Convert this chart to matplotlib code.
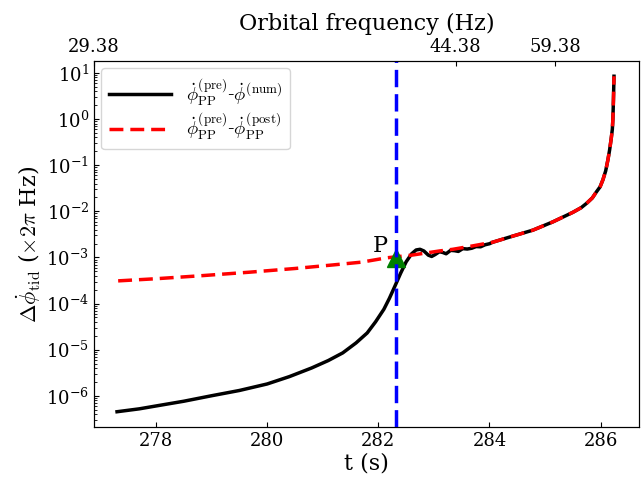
import numpy as np
import matplotlib.pyplot as plt

plt.rcParams['font.family'] = 'DejaVu Serif'
plt.rcParams['mathtext.fontset'] = 'dejavuserif'
plt.rcParams['axes.unicode_minus'] = False

# difference numerical vs pre-merger PP
t_num = [277.30, 277.7, 278.0, 278.5, 279.0, 279.5, 280.0, 280.4, 280.8, 281.1,
         281.36, 281.6, 281.8, 281.95, 282.1, 282.2, 282.3, 282.4, 282.5, 282.6,
         282.68, 282.75, 282.82, 282.9, 282.96, 283.02, 283.1, 283.16, 283.22, 283.3,
         283.37, 283.44, 283.52, 283.6, 283.68, 283.76, 283.84, 283.92, 284.0, 284.06,
         284.42, 284.78, 285.14, 285.5, 285.65, 285.75, 285.85, 285.92, 285.99, 286.04,
         286.09, 286.13, 286.16, 286.19, 286.21, 286.22, 286.23, 286.24]
d_num = [4.5e-7, 5.2e-7, 6.0e-7, 7.6e-7, 1.0e-6, 1.3e-6, 1.8e-6, 2.6e-6, 4.0e-6, 5.8e-6,
         8.5e-6, 1.4e-5, 2.3e-5, 4.0e-5, 7.5e-5, 1.3e-4, 2.4e-4, 4.5e-4, 8.0e-4, 1.2e-3,
         1.45e-3, 1.5e-3, 1.38e-3, 1.12e-3, 1.05e-3, 1.15e-3, 1.33e-3, 1.28e-3, 1.2e-3, 1.42e-3,
         1.4e-3, 1.35e-3, 1.55e-3, 1.52e-3, 1.58e-3, 1.72e-3, 1.7e-3, 1.88e-3, 1.98e-3, 2.14e-3,
         2.9e-3, 3.9e-3, 5.9e-3, 9.5e-3, 1.2e-2, 1.5e-2, 1.95e-2, 2.6e-2, 3.4e-2, 4.8e-2,
         7.5e-2, 0.13, 0.21, 0.38, 0.6, 1.0, 2.6, 8.5]

# difference post vs pre PP
t_post = [277.32, 278.0, 278.8, 279.7, 280.5, 281.2, 281.7, 282.15, 282.6, 283.1,
          283.34, 283.70, 284.06, 284.42, 284.78, 285.14, 285.5, 285.65, 285.75, 285.85,
          285.92, 285.99, 286.04, 286.09, 286.13, 286.16, 286.19, 286.21, 286.22, 286.23,
          286.24]
d_post = [3.1e-4, 3.45e-4, 4.0e-4, 4.8e-4, 5.75e-4, 6.9e-4, 7.9e-4, 9.8e-4, 1.12e-3, 1.38e-3,
          1.5e-3, 1.78e-3, 2.14e-3, 2.9e-3, 3.9e-3, 5.9e-3, 9.5e-3, 1.2e-2, 1.5e-2, 1.95e-2,
          2.6e-2, 3.4e-2, 4.8e-2, 7.5e-2, 0.13, 0.21, 0.38, 0.6, 1.0, 2.6,
          8.5]

t_P = 282.32
d_P = 9.5e-4

top_ticks = [276.885, 283.39, 285.18]
top_labels = ['29.38', '44.38', '59.38']

fig = plt.figure(figsize=(6.41, 4.78), dpi=100)
ax = fig.add_axes([0.1466, 0.1067, 0.8503, 0.7657])

ax.plot(t_num, d_num, color='black', lw=2.5,
        label=r'$\dot{\phi}^{\rm (pre)}_{\rm PP}$-$\dot{\phi}^{\rm (num)}$', zorder=2)
ax.plot(t_post, d_post, color='red', lw=2.5, ls=(0, (4, 2)),
        label=r'$\dot{\phi}^{\rm (pre)}_{\rm PP}$-$\dot{\phi}^{\rm (post)}_{\rm PP}$', zorder=3)
ax.plot([t_P], [d_P], marker='^', color='green', ms=13, ls='none', zorder=4)
ax.axvline(t_P, color='blue', lw=2.5, ls=(0, (5, 2)), zorder=5)
ax.text(t_P - 0.42, d_P * 1.35, 'P', fontsize=16)

ax.set_yscale('log')
ax.set_xlim(276.885, 286.69)
ax.set_ylim(2.1e-7, 18.2)
ax.set_xticks([278, 280, 282, 284, 286])
ax.set_yticks([1e-6, 1e-5, 1e-4, 1e-3, 1e-2, 1e-1, 1e0, 1e1])
ax.tick_params(axis='both', which='both', direction='in', labelsize=13)
ax.set_xlabel('t (s)', fontsize=16, labelpad=2)
ax.set_ylabel(r'$\Delta\dot{\phi}_{\rm tid}$ ($\times 2\pi$ Hz)', fontsize=16, labelpad=2,
              math_fontfamily='cm')
leg = ax.legend(loc='upper left', fontsize=13.5, handlelength=3.3, labelspacing=0.15,
                borderaxespad=0.4)
for txt in leg.get_texts():
    txt.set_math_fontfamily('cm')

ax2 = ax.twiny()
ax2.set_xlim(ax.get_xlim())
ax2.set_xticks(top_ticks)
ax2.set_xticklabels(top_labels)
ax2.tick_params(axis='x', direction='in', labelsize=13)
ax2.set_xlabel('Orbital frequency (Hz)', fontsize=16, labelpad=6)

fig.savefig('out.png', dpi=100)
